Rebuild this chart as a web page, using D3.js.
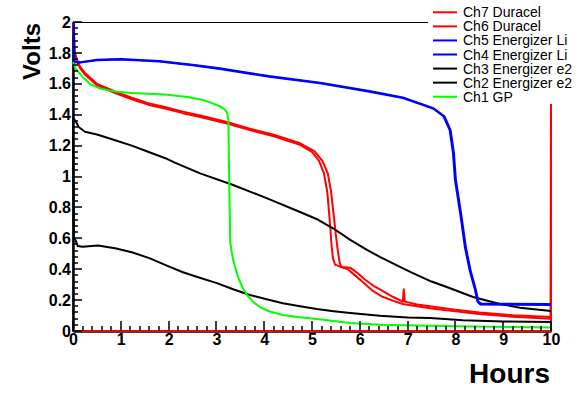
<!DOCTYPE html>
<html>
<head>
<meta charset="utf-8">
<script src="https://cdn.jsdelivr.net/npm/d3@7"></script>
<style>
  body { margin: 0; background: #fff; }
  svg { display: block; font-family: "Liberation Sans", Arial, sans-serif; }
</style>
</head>
<body>
<script>
// discharge curves, [hours, volts]
const ch7 = [[0.01,2.0],[0.03,1.80],[0.08,1.75],[0.15,1.70],[0.25,1.66],[0.5,1.59],[0.88,1.54],[1.23,1.50],[1.57,1.465],[1.92,1.44],[2.3,1.41],[2.66,1.385],[3.2,1.345],[3.7,1.30],[4.2,1.26],[4.75,1.205],[5.0,1.16],[5.15,1.10],[5.25,1.02],[5.32,0.90],[5.37,0.72],[5.41,0.55],[5.44,0.47],[5.48,0.43],[5.6,0.415],[5.75,0.40],[5.9,0.36],[6.05,0.32],[6.25,0.265],[6.45,0.225],[6.7,0.195],[6.9,0.175],[7.2,0.16],[7.5,0.145],[8.0,0.127],[8.5,0.11],[9.2,0.092],[9.99,0.08],[10,1.47],[10,0],[0,0]];
const ch6 = [[0.01,2.0],[0.03,1.81],[0.08,1.76],[0.15,1.71],[0.25,1.67],[0.5,1.60],[0.88,1.55],[1.23,1.51],[1.57,1.475],[1.92,1.45],[2.3,1.42],[2.66,1.395],[3.2,1.355],[3.7,1.31],[4.2,1.27],[4.75,1.215],[5.05,1.165],[5.22,1.10],[5.33,1.02],[5.4,0.90],[5.45,0.76],[5.5,0.62],[5.54,0.52],[5.58,0.44],[5.62,0.415],[5.8,0.41],[5.95,0.375],[6.1,0.335],[6.3,0.29],[6.5,0.255],[6.7,0.22],[6.9,0.19],[6.92,0.27],[6.94,0.19],[7.2,0.172],[7.5,0.158],[8.0,0.137],[8.5,0.12],[9.2,0.102],[10,0.09]];
const ch5 = [[0.02,2.0],[0.03,1.74],[0.15,1.737],[0.5,1.752],[1.0,1.758],[1.8,1.745],[2.5,1.72],[3.07,1.696],[4.1,1.646],[5.17,1.603],[6.2,1.549],[6.9,1.508],[7.32,1.463],[7.53,1.44],[7.75,1.39],[7.88,1.30],[7.95,1.15],[7.99,0.98],[8.1,0.76],[8.2,0.54],[8.3,0.39],[8.41,0.265],[8.46,0.19],[8.52,0.172],[9,0.17],[10,0.168]];
const ch4 = [[0.02,1.98],[0.03,1.745],[0.15,1.74],[0.5,1.755],[1.0,1.76],[1.8,1.748],[2.5,1.723],[3.07,1.70],[4.1,1.65],[5.17,1.607],[6.2,1.553],[6.9,1.512],[7.32,1.467],[7.55,1.44],[7.77,1.39],[7.9,1.30],[7.97,1.15],[8.01,0.98],[8.12,0.76],[8.22,0.54],[8.32,0.39],[8.43,0.265],[8.48,0.19],[8.54,0.178],[9,0.176],[10,0.175]];
const ch3 = [[0,1.38],[0.05,1.36],[0.12,1.32],[0.25,1.29],[0.52,1.27],[0.88,1.235],[1.23,1.20],[1.57,1.16],[1.92,1.12],[2.13,1.09],[2.66,1.02],[3.35,0.945],[4.05,0.86],[4.75,0.77],[5.13,0.72],[5.44,0.665],[5.8,0.59],[6.15,0.525],[6.42,0.48],[6.84,0.415],[7.11,0.375],[7.5,0.32],[7.82,0.285],[8.37,0.22],[8.87,0.18],[9.35,0.15],[10,0.13]];
const ch2 = [[0,1.38],[0.02,0.60],[0.05,0.59],[0.1,0.55],[0.2,0.545],[0.52,0.553],[0.88,0.535],[1.23,0.51],[1.61,0.47],[1.95,0.425],[2.3,0.38],[2.65,0.345],[3.01,0.31],[3.35,0.27],[3.7,0.233],[4.05,0.205],[4.39,0.18],[4.75,0.16],[5.1,0.142],[5.45,0.128],[5.8,0.116],[6.42,0.098],[7.0,0.088],[7.47,0.084],[8.16,0.07],[9,0.062],[10,0.058]];
const ch1 = [[0,1.74],[0.05,1.70],[0.2,1.645],[0.35,1.60],[0.56,1.57],[0.88,1.55],[1.23,1.54],[1.92,1.53],[2.4,1.515],[2.72,1.495],[2.95,1.47],[3.07,1.455],[3.17,1.435],[3.22,1.415],[3.25,1.37],[3.26,1.13],[3.29,0.57],[3.35,0.46],[3.45,0.35],[3.55,0.28],[3.64,0.233],[3.78,0.185],[3.91,0.155],[4.1,0.128],[4.39,0.104],[4.7,0.09],[5.1,0.078],[5.8,0.052],[6.42,0.04],[8,0.03],[10,0.022]];

const names = ["Ch7 Duracel", "Ch6 Duracel", "Ch5 Energizer Li", "Ch4 Energizer Li", "Ch3 Energizer e2", "Ch2 Energizer e2", "Ch1 GP"];
const colors = ["#ff0000", "#ff0000", "#0000ff", "#0000ff", "#000000", "#000000", "#00ff00"];
const series = [ch7, ch6, ch5, ch4, ch3, ch2, ch1];

const xTicks = [0, 1, 2, 3, 4, 5, 6, 7, 8, 9, 10];
const yTicks = [0, 0.2, 0.4, 0.6, 0.8, 1, 1.2, 1.4, 1.6, 1.8, 2];

const width = 587;
const height = 394;

const x = d3.scaleLinear().domain([0, 10]).range([73, 551]);
const y = d3.scaleLinear().domain([0, 2]).range([331, 22]);

const svg = d3.select("body").append("svg")
    .attr("width", width)
    .attr("height", height);

svg.append("rect").attr("width", width).attr("height", height).attr("fill", "#fff");

// frame
svg.append("rect")
    .attr("x", x(0)).attr("y", y(2) + 0.5)
    .attr("width", x(10) - x(0)).attr("height", y(0) - y(2))
    .attr("fill", "none").attr("stroke", "#000").attr("stroke-width", 1);

// axis labels
const xAxis = svg.append("g")
    .attr("transform", `translate(0,${y(0)})`)
    .call(d3.axisBottom(x).tickValues(xTicks).tickSize(0).tickPadding(3).tickFormat(d3.format("")));

const yAxis = svg.append("g")
    .attr("transform", `translate(${x(0)},0)`)
    .call(d3.axisLeft(y).tickValues(yTicks).tickSize(0).tickPadding(2).tickFormat(d => String(+d.toFixed(1))));

[xAxis, yAxis].forEach(g => {
  g.select(".domain").attr("stroke", "#000").attr("stroke-width", 2.5);
  g.selectAll(".tick text")
      .attr("font-family", "'Liberation Sans', Arial, sans-serif")
      .attr("font-size", 16)
      .attr("font-weight", "bold")
      .attr("fill", "#000");
});

// curves
const line = d3.line().x(d => x(d[0])).y(d => y(d[1]));
const order = [0, 1, 4, 5, 2, 3, 6];
svg.append("g")
  .selectAll("path")
  .data(order)
  .join("path")
    .attr("d", i => line(series[i]))
    .attr("fill", "none")
    .attr("stroke", i => colors[i])
    .attr("stroke-width", 2)
    .attr("stroke-linejoin", "round");

// ticks, drawn inward on top of the curves: 5 minor divisions per label
const xMinor = d3.range(0, 51).map(i => i / 5);
const yMinor = d3.range(0, 51).map(i => i / 25);

svg.append("g")
  .selectAll("rect")
  .data(xMinor)
  .join("rect")
    .attr("x", d => Math.round(x(d)) - 0.75)
    .attr("width", 1.5)
    .attr("y", (d, i) => y(0) - (i % 5 === 0 ? 10 : 5))
    .attr("height", (d, i) => (i % 5 === 0 ? 10 : 5))
    .attr("fill", "#000");

svg.append("g")
  .selectAll("rect")
  .data(yMinor)
  .join("rect")
    .attr("y", d => Math.round(y(d)) - 0.75)
    .attr("height", 1.5)
    .attr("x", x(0))
    .attr("width", (d, i) => (i % 5 === 0 ? 9 : 5))
    .attr("fill", "#000");

// legend
const legend = svg.append("g");
legend.append("rect")
    .attr("x", 428).attr("y", 0)
    .attr("width", width - 428).attr("height", 104)
    .attr("fill", "#fff");

const rows = legend.selectAll("g")
  .data(names)
  .join("g")
    .attr("transform", (d, i) => `translate(0,${12.3 + i * 14.07})`);

rows.append("line")
    .attr("x1", 433).attr("x2", 457)
    .attr("stroke", (d, i) => colors[i])
    .attr("stroke-width", 2);

rows.append("text")
    .attr("x", 463)
    .attr("dy", "0.36em")
    .attr("font-size", 14)
    .text(d => d);

// axis titles
svg.append("text")
    .attr("transform", `translate(40,${y(2) + 1}) rotate(-90)`)
    .attr("text-anchor", "end")
    .attr("font-size", 24)
    .attr("font-weight", "bold")
    .text("Volts");

svg.append("text")
    .attr("x", 550)
    .attr("y", 383)
    .attr("text-anchor", "end")
    .attr("font-size", 28)
    .attr("font-weight", "bold")
    .text("Hours");
</script>
</body>
</html>
